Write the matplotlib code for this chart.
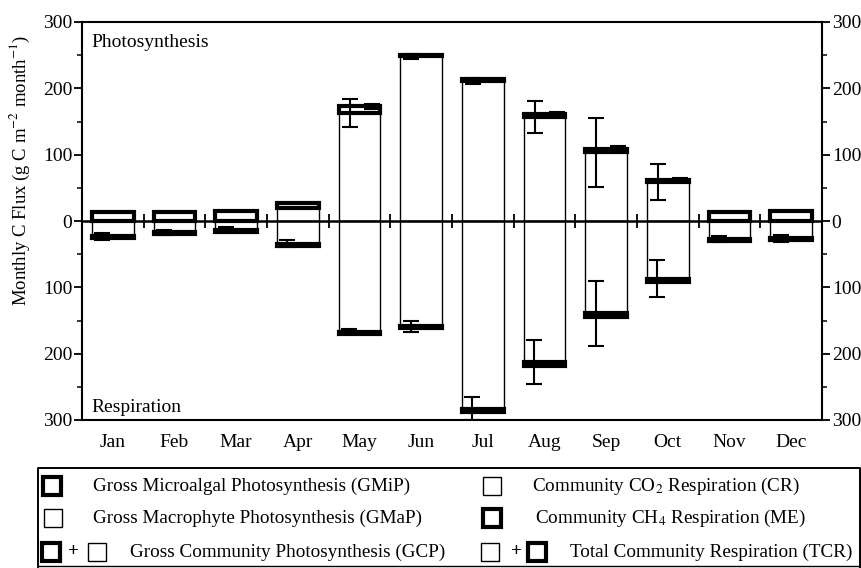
import numpy as np
import matplotlib
matplotlib.use("Agg")
import matplotlib.pyplot as plt
from matplotlib.patches import Rectangle
from matplotlib.ticker import MultipleLocator, FuncFormatter

plt.rcParams["font.family"] = ["Liberation Serif", "DejaVu Serif"]
plt.rcParams["mathtext.fontset"] = "stix"

months = ["Jan", "Feb", "Mar", "Apr", "May", "Jun",
          "Jul", "Aug", "Sep", "Oct", "Nov", "Dec"]

# photosynthesis side (g C m-2 month-1)
gmap = [0, 0, 0, 19, 163, 248, 211, 157, 104, 59, 0, 0]
gmip = [14, 13, 15, 8, 10, 2, 3, 4, 5, 3, 14, 15]
gmap_err = [0, 0, 0, 0, 21, 4, 5, 24, 52, 27, 0, 0]
gcp_err = [0, 0, 0, 0, 4, 0, 0, 3, 4, 3, 0, 0]

# respiration side
cr = [23, 17, 13, 34, 167, 159, 283, 213, 139, 87, 27, 26]
me = [3, 3, 3, 4, 4, 3, 5, 6, 6, 5, 3, 3]
cr_err = [5, 4, 4, 5, 4, 9, 17, 33, 49, 28, 4, 5]

x = np.arange(len(months))
gmap = np.array(gmap)
gmip = np.array(gmip)
cr = np.array(cr)
me = np.array(me)
gcp = gmap + gmip

fig = plt.figure(figsize=(8.62, 5.68), dpi=100)
ax = fig.add_axes([82 / 862, 1 - 420 / 568, 740 / 862, 398 / 568])

w = 0.68
thin = 1.0
thick = 3.0

ax.bar(x, gmap, w, color="white", edgecolor="black", linewidth=thin, zorder=2)
ax.bar(x, gmip, w, bottom=gmap, color="white", edgecolor="black",
       linewidth=thick, zorder=3)
ax.bar(x, -cr, w, color="white", edgecolor="black", linewidth=thin, zorder=2)
ax.bar(x, -me, w, bottom=-cr, color="white", edgecolor="black",
       linewidth=thick, zorder=3)

ekw = dict(fmt="none", ecolor="black", elinewidth=1.5, capsize=6,
           capthick=1.5, zorder=4)
m = np.array(gmap_err) > 0
ax.errorbar(x[m] - 0.16, gmap[m], yerr=np.array(gmap_err)[m], **ekw)
m = np.array(gcp_err) > 0
ax.errorbar(x[m] + 0.2, gcp[m], yerr=np.array(gcp_err)[m], **ekw)
m = np.array(cr_err) > 0
ax.errorbar(x[m] - 0.17, -cr[m], yerr=np.array(cr_err)[m], **ekw)

# zero line and little separators between months
ax.axhline(0, color="black", lw=1.8, zorder=5)
ax.vlines(x[:-1] + 0.5, -11, 11, color="black", lw=1.3, zorder=5)

ax.set_xlim(-0.5, 11.5)
ax.set_ylim(-300, 300)
ax.set_xticks(x)
ax.set_xticklabels(months, fontsize=14)
ax.tick_params(axis="x", length=0, pad=10)

absfmt = FuncFormatter(lambda v, p: f"{abs(v):.0f}")
ax.yaxis.set_major_locator(MultipleLocator(100))
ax.yaxis.set_minor_locator(MultipleLocator(50))
ax.yaxis.set_major_formatter(absfmt)
ax.tick_params(axis="y", which="major", direction="out", length=6, width=1.3,
               labelsize=14, pad=1, left=True, right=True,
               labelleft=True, labelright=True)
ax.tick_params(axis="y", which="minor", direction="out", length=3.5,
               width=1.1, left=True, right=True)
for s in ax.spines.values():
    s.set_linewidth(1.5)

ax.text(0.013, 0.97, "Photosynthesis", transform=ax.transAxes,
        fontsize=14, va="top", ha="left")
ax.text(0.013, 0.01, "Respiration", transform=ax.transAxes,
        fontsize=14, va="bottom", ha="left")

fig.text(20 / 862, 1 - 170 / 568,
         "Monthly C Flux (g C m$^{-2}$ month$^{-1}$)",
         rotation=90, ha="center", va="center", fontsize=13.5)

# legend drawn by hand in pixel space
lg = fig.add_axes([0, 0, 1, 1], zorder=10)
lg.set_xlim(0, 862)
lg.set_ylim(568, 0)
lg.axis("off")
lg.plot([38, 38, 860, 860], [567, 468, 468, 567], color="black", lw=1.4)
lg.plot([38, 860], [566, 566], color="black", lw=1.0)


def box(x0, yc, lw):
    lg.add_patch(Rectangle((x0, yc - 9), 18, 18, facecolor="white",
                           edgecolor="black", linewidth=lw))


rows = [486, 518, 552]
fs = 13.8
box(43, rows[0], thick)
lg.text(93, rows[0], "Gross Microalgal Photosynthesis (GMiP)", fontsize=fs,
        va="center")
box(44, rows[1], thin)
lg.text(93, rows[1], "Gross Macrophyte Photosynthesis (GMaP)", fontsize=fs,
        va="center")
box(42, rows[2], thick)
lg.text(73, rows[2], "+", fontsize=fs, va="center", ha="center",
        fontweight="bold")
box(88, rows[2], thin)
lg.text(130, rows[2], "Gross Community Photosynthesis (GCP)", fontsize=fs,
        va="center")

box(483, rows[0], thin)
lg.text(532, rows[0], "Community CO$_2$ Respiration (CR)", fontsize=fs,
        va="center")
box(483, rows[1], thick)
lg.text(535, rows[1], "Community CH$_4$ Respiration (ME)", fontsize=fs,
        va="center")
box(481, rows[2], thin)
lg.text(516, rows[2], "+", fontsize=fs, va="center", ha="center",
        fontweight="bold")
box(528, rows[2], thick)
lg.text(570, rows[2], "Total Community Respiration (TCR)", fontsize=fs,
        va="center")

fig.savefig("out.png", dpi=100)
